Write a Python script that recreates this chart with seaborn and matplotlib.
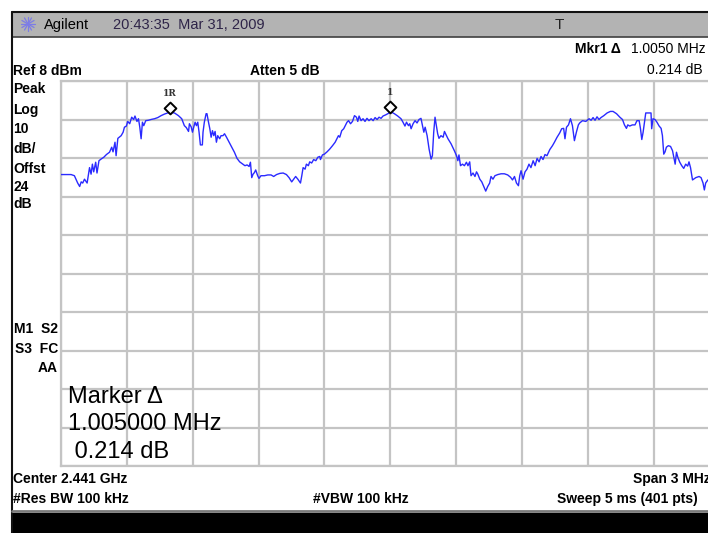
import numpy as np
import pandas as pd
import seaborn as sns
import matplotlib.pyplot as plt
from matplotlib.lines import Line2D
from matplotlib.patches import Rectangle
from matplotlib.transforms import offset_copy

# trace: offset from centre (MHz) and level (dBm)
freq_mhz = [-1.500, -1.454, -1.439, -1.424, -1.415, -1.408, -1.401, -1.393, -1.381, -1.370,
            -1.363, -1.357, -1.351, -1.342, -1.336, -1.327, -1.318, -1.305, -1.293, -1.279,
            -1.269, -1.263, -1.254, -1.249, -1.241, -1.226, -1.217, -1.211, -1.202, -1.196,
            -1.187, -1.178, -1.169, -1.163, -1.154, -1.147, -1.141, -1.135, -1.129, -1.123,
            -1.114, -1.102, -1.090, -1.074, -1.059, -1.044, -1.029, -1.014, -1.005, -0.983,
            -0.965, -0.950, -0.938, -0.929, -0.919, -0.915, -0.907, -0.901, -0.895, -0.889,
            -0.883, -0.877, -0.871, -0.865, -0.856, -0.853, -0.847, -0.839, -0.835, -0.828,
            -0.822, -0.816, -0.810, -0.804, -0.798, -0.792, -0.786, -0.777, -0.771, -0.762,
            -0.755, -0.746, -0.734, -0.722, -0.710, -0.698, -0.686, -0.672, -0.662, -0.652,
            -0.643, -0.637, -0.631, -0.625, -0.619, -0.613, -0.604, -0.598, -0.589, -0.573,
            -0.558, -0.543, -0.531, -0.518, -0.503, -0.488, -0.473, -0.461, -0.449, -0.440,
            -0.431, -0.421, -0.409, -0.403, -0.397, -0.388, -0.382, -0.373, -0.367, -0.358,
            -0.349, -0.339, -0.330, -0.321, -0.318, -0.309, -0.300, -0.288, -0.276, -0.263,
            -0.251, -0.242, -0.236, -0.230, -0.221, -0.212, -0.203, -0.197, -0.190, -0.181,
            -0.172, -0.163, -0.154, -0.148, -0.142, -0.133, -0.124, -0.115, -0.106, -0.097,
            -0.087, -0.078, -0.069, -0.060, -0.051, -0.042, -0.033, -0.021, -0.008, 0.000,
            0.019, 0.034, 0.049, 0.058, 0.067, 0.074, 0.083, 0.089, 0.095, 0.104,
            0.113, 0.122, 0.131, 0.140, 0.147, 0.153, 0.159, 0.168, 0.177, 0.186,
            0.192, 0.198, 0.204, 0.210, 0.216, 0.222, 0.231, 0.241, 0.247, 0.256,
            0.263, 0.277, 0.292, 0.302, 0.308, 0.313, 0.320, 0.329, 0.338, 0.347,
            0.354, 0.362, 0.368, 0.377, 0.386, 0.393, 0.399, 0.408, 0.417, 0.426,
            0.435, 0.444, 0.453, 0.459, 0.468, 0.477, 0.490, 0.505, 0.520, 0.535,
            0.548, 0.557, 0.566, 0.575, 0.584, 0.590, 0.596, 0.605, 0.614, 0.623,
            0.632, 0.641, 0.651, 0.660, 0.669, 0.678, 0.687, 0.696, 0.705, 0.714,
            0.727, 0.739, 0.748, 0.760, 0.772, 0.781, 0.790, 0.796, 0.803, 0.812,
            0.821, 0.830, 0.839, 0.848, 0.857, 0.863, 0.876, 0.891, 0.906, 0.915,
            0.924, 0.933, 0.942, 0.951, 0.960, 0.973, 0.988, 1.003, 1.015, 1.031,
            1.046, 1.058, 1.067, 1.076, 1.082, 1.091, 1.103, 1.115, 1.124, 1.134,
            1.140, 1.146, 1.152, 1.158, 1.164, 1.179, 1.188, 1.191, 1.197, 1.206,
            1.215, 1.225, 1.234, 1.240, 1.246, 1.252, 1.258, 1.267, 1.277, 1.286,
            1.292, 1.298, 1.304, 1.310, 1.319, 1.328, 1.337, 1.346, 1.355, 1.361,
            1.368, 1.377, 1.392, 1.407, 1.416, 1.425, 1.431, 1.437, 1.447]
level_dbm = [-16.3, -16.3, -16.6, -18.5, -19.4, -18.2, -18.5, -17.5, -18.5, -14.5,
             -16.2, -13.6, -15.6, -13.1, -15.9, -12.7, -12.3, -11.8, -11.1, -10.5,
             -9.2, -10.4, -7.9, -11.4, -6.9, -6.2, -5.3, -4.0, -3.7, -2.5,
             -3.1, -1.4, -2.0, -1.1, -2.5, -1.8, -4.0, -7.0, -2.7, -3.6,
             -2.3, -2.2, -2.0, -1.8, -1.5, -1.0, -0.6, -0.3, -0.11, -0.3,
             -1.0, -1.8, -3.6, -4.1, -5.1, -3.1, -3.9, -5.3, -3.9, -2.7,
             -3.6, -2.7, -5.3, -8.6, -8.6, -5.3, -2.7, -0.5, -0.5, -2.7,
             -4.4, -6.6, -4.9, -6.2, -5.1, -7.9, -6.2, -7.0, -6.2, -6.2,
             -5.7, -6.6, -7.9, -9.2, -10.5, -12.1, -13.0, -13.6, -14.0, -13.8,
             -14.2, -13.1, -17.1, -16.2, -15.8, -15.1, -16.6, -17.3, -16.6, -16.6,
             -16.4, -16.4, -16.8, -16.3, -16.0, -15.9, -16.3, -17.1, -18.2, -17.5,
             -16.8, -17.5, -18.5, -16.6, -14.5, -14.9, -13.6, -14.0, -13.0, -13.3,
             -12.4, -12.7, -11.8, -11.6, -12.4, -11.2, -11.0, -10.4, -9.7, -8.8,
             -7.9, -6.9, -6.2, -6.6, -4.9, -4.4, -3.4, -2.7, -2.3, -3.1,
             -2.5, -1.0, -1.4, -2.5, -1.1, -2.3, -1.8, -2.5, -1.7, -2.3,
             -1.8, -2.3, -1.5, -2.0, -1.4, -1.7, -1.1, -0.8, -0.4, 0.10,
             -0.5, -1.1, -1.8, -2.7, -3.7, -2.7, -3.6, -3.1, -4.4, -3.1,
             -2.3, -2.9, -2.0, -1.7, -3.6, -5.3, -4.0, -6.2, -9.7, -12.3,
             -11.4, -5.3, -1.4, -3.6, -5.7, -6.9, -6.2, -6.6, -5.1, -6.2,
             -7.0, -8.3, -10.1, -11.4, -12.7, -11.2, -14.0, -13.6, -14.0, -13.1,
             -14.0, -13.0, -16.6, -15.9, -16.8, -15.6, -16.2, -17.5, -18.2, -19.4,
             -20.6, -19.4, -18.5, -16.8, -17.5, -16.6, -16.3, -16.1, -16.1, -16.4,
             -17.0, -17.7, -16.8, -18.5, -19.2, -16.6, -15.3, -17.5, -15.6, -14.9,
             -13.6, -14.5, -12.7, -14.0, -12.1, -13.0, -11.6, -12.4, -11.1, -11.4,
             -9.8, -8.8, -7.9, -6.6, -5.5, -4.4, -4.3, -7.0, -4.0, -3.4,
             -1.8, -3.6, -7.5, -5.3, -3.4, -2.9, -2.3, -2.5, -1.8, -2.2,
             -1.5, -2.2, -1.3, -2.0, -1.5, -1.0, -0.3, 0.1, 0.1, -0.5,
             -1.4, -2.0, -3.4, -4.3, -3.4, -3.7, -3.4, -3.4, -2.3, -2.3,
             -4.4, -7.2, -5.3, -2.7, -0.3, -0.3, -0.3, -4.4, -1.8, -2.0,
             -2.7, -3.7, -4.3, -6.2, -11.0, -10.4, -9.2, -8.8, -9.0, -10.1,
             -11.8, -13.6, -10.5, -11.8, -13.1, -14.0, -14.7, -13.6, -14.1, -13.0,
             -14.5, -17.7, -17.1, -16.8, -17.1, -18.5, -20.3, -18.5, -17.7]

marker_freq = [-1.005, 0.000]
marker_level = [-0.11, 0.10]
marker_names = ['1R', '1']

ref_level = 8
db_per_div = 10
span_mhz = 3.0

df = pd.DataFrame({'freq': freq_mhz, 'level': level_dbm})
mk = pd.DataFrame({'freq': marker_freq, 'level': marker_level, 'name': marker_names})

sns.set_theme(style='white')
plt.rcParams['font.family'] = ['Liberation Sans', 'DejaVu Sans']

W, H = 708, 533
fig = plt.figure(figsize=(W / 100, H / 100), dpi=100)
fig.patch.set_facecolor('white')


def fx(x):
    return x / W


def fy(y):
    return 1 - y / H


# graticule; right edge runs past the screenshot crop
ax = fig.add_axes([fx(61), fy(466), 658.5 / W, 385 / H])
ax.set_xlim(-span_mhz / 2, span_mhz / 2)
ax.set_ylim(ref_level - 10 * db_per_div, ref_level)
ax.set_xticks(np.linspace(-span_mhz / 2, span_mhz / 2, 11))
ax.set_yticks(np.linspace(ref_level - 10 * db_per_div, ref_level, 11))
ax.set_xticklabels([])
ax.set_yticklabels([])
ax.tick_params(length=0)
ax.grid(True, color='#c4c4c4', lw=1.6)
for s in ax.spines.values():
    s.set_color('#c4c4c4')
    s.set_linewidth(1.6)

sns.lineplot(data=df, x='freq', y='level', ax=ax, color='#2a2aff', lw=1.0,
             estimator=None, sort=False, zorder=3)

sns.scatterplot(data=mk, x='freq', y='level', ax=ax, marker='D', s=36,
                color='white', edgecolor='black', linewidth=1.4, zorder=4)
# the diamond sits just above the trace point
ax.collections[-1].set_offset_transform(offset_copy(ax.transData, fig, x=0, y=4.5, units='dots'))
for _, r in mk.iterrows():
    ax.annotate(r['name'], (r['freq'], r['level']), xytext=(0, 13.5), textcoords='offset points',
                ha='center', va='center', fontsize=6.5, fontweight='bold', color='#333333',
                family='DejaVu Serif')
ax.set_xlabel('')
ax.set_ylabel('')

# instrument frame
fig.patches.append(Rectangle((fx(12), fy(37)), 1, 25 / H, transform=fig.transFigure,
                             facecolor='#b3b3b3', edgecolor='none', zorder=0))
fig.add_artist(Line2D([fx(12), 1], [fy(12), fy(12)], color='#111111', lw=1.5))
fig.add_artist(Line2D([fx(12), 1], [fy(37), fy(37)], color='#404040', lw=1.2))
fig.add_artist(Line2D([fx(12), fx(12)], [fy(12), 0], color='#111111', lw=1.5))
fig.patches.append(Rectangle((fx(12), 0), 1, 20 / H, transform=fig.transFigure,
                             facecolor='black', edgecolor='none', zorder=0))
fig.add_artist(Line2D([fx(12), 1], [fy(511), fy(511)], color='#7a7a7a', lw=2))

# Agilent spark
for a in np.linspace(0, np.pi, 6, endpoint=False):
    dx, dy = 7 * np.cos(a), 7 * np.sin(a)
    fig.add_artist(Line2D([fx(28 - dx), fx(28 + dx)], [fy(24 - dy), fy(24 + dy)],
                          color='#7c7ce6', lw=0.9))


def txt(x, y, s, size=10, weight='bold', ha='left', color='black', **kw):
    fig.text(fx(x), fy(y), s, fontsize=size, fontweight=weight, ha=ha, va='center',
             color=color, **kw)


txt(44, 25, 'Agilent', 10.5, 'normal')
txt(113, 25, '20:43:35  Mar 31, 2009', 10.5, 'normal', color='#2e2448')
txt(559, 25, 'T', 11, 'normal', ha='center', color='#222222')

txt(621, 49, 'Mkr1 \u0394', 10, ha='right')
txt(706, 49, '1.0050 MHz', 10, 'normal', ha='right')
txt(703, 70, '0.214 dB', 10, 'normal', ha='right')

txt(13, 71, 'Ref 8 dBm')
txt(250, 71, 'Atten 5 dB')

for yy, s in zip([89, 110, 129, 149, 169, 187, 204],
                 ['Peak', 'Log', '10', 'dB/', 'Offst', '24', 'dB']):
    txt(13, yy, s)
txt(58, 329, 'M1  S2', ha='right')
txt(58, 349, 'S3  FC', ha='right')
txt(58, 368, 'AA', ha='right')

txt(68, 397, 'Marker \u0394', 17, 'normal')
txt(68, 424, '1.005000 MHz', 17, 'normal')
txt(68, 452, ' 0.214 dB', 17, 'normal')

txt(13, 479, 'Center 2.441 GHz')
txt(13, 499, '#Res BW 100 kHz')
txt(313, 499, '#VBW 100 kHz')
# the screenshot itself is cropped through this label
txt(633, 479, 'Span 3 MHz')
txt(698, 499, 'Sweep 5 ms (401 pts)', ha='right')

fig.savefig('out.png', dpi=100)
